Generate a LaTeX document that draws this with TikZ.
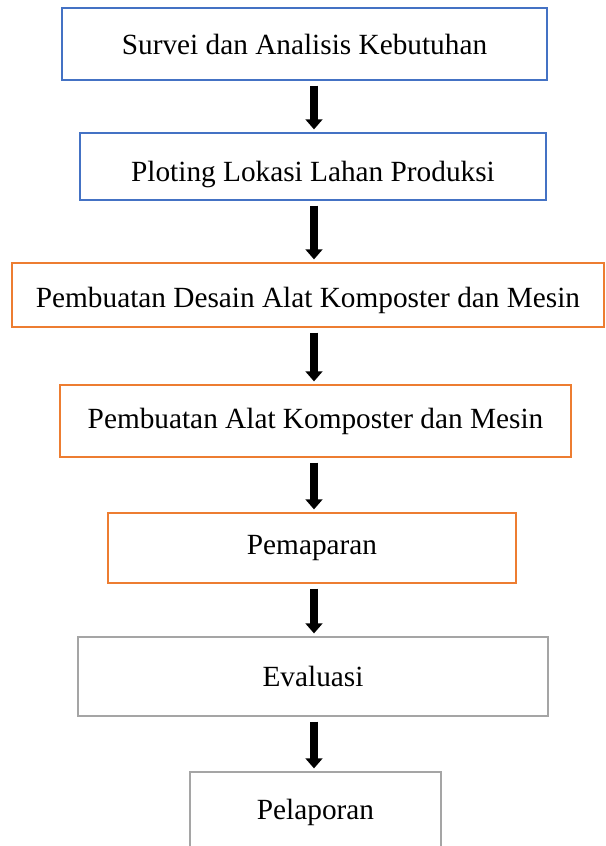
\documentclass[tikz,border=0pt]{standalone}
\usepackage{fontspec}
\setmainfont{Liberation Serif}
\usetikzlibrary{arrows.meta}
\definecolor{boxblue}{RGB}{68,114,196}
\definecolor{boxorange}{RGB}{237,125,49}
\definecolor{boxgray}{RGB}{165,165,165}
\tikzset{
  stage/.style={draw,line width=1.6pt,fill=white,inner sep=0pt,font=\fontsize{25}{30}\selectfont},
  flow/.style={line width=6pt,-{Triangle[width=0.5cm,length=0.3cm]},shorten <=0.14cm,shorten >=0.08cm}
}
\begin{document}
\begin{tikzpicture}[x=0.03cm,y=-0.03cm]
    \useasboundingbox (0,0) rectangle (605,846);
    \coordinate (axis) at (314,0);

    %stages
    \node[stage,draw=boxblue,minimum width=14.55cm,minimum height=2.16cm] (survei) at (304.5,44) {Survei dan Analisis Kebutuhan};
    \node[stage,draw=boxblue,minimum width=13.98cm,minimum height=2.01cm,text height=31pt,text depth=5.5pt] (ploting) at (313,166.5) {Ploting Lokasi Lahan Produksi};
    \node[stage,draw=boxorange,minimum width=17.76cm,minimum height=1.92cm,text height=26pt,text depth=5.5pt] (desain) at (308,295) {Pembuatan Desain Alat Komposter dan Mesin};
    \node[stage,draw=boxorange,minimum width=15.33cm,minimum height=2.16cm] (alat) at (315.5,421) {Pembuatan Alat Komposter dan Mesin};
    \node[stage,draw=boxorange,minimum width=12.24cm,minimum height=2.1cm] (paparan) at (312,548) {Pemaparan};
    \node[stage,draw=boxgray,minimum width=14.1cm,minimum height=2.37cm] (evaluasi) at (313,676.5) {Evaluasi};
    \node[stage,draw=boxgray,minimum width=7.53cm,minimum height=2.4cm] (laporan) at (315.5,812) {Pelaporan};

    %arrows
    \draw[flow] (survei.south -| axis) -- (ploting.north -| axis);
    \draw[flow] (ploting.south -| axis) -- (desain.north -| axis);
    \draw[flow] (desain.south -| axis) -- (alat.north -| axis);
    \draw[flow] (alat.south -| axis) -- (paparan.north -| axis);
    \draw[flow] (paparan.south -| axis) -- (evaluasi.north -| axis);
    \draw[flow] (evaluasi.south -| axis) -- (laporan.north -| axis);
\end{tikzpicture}
\end{document}
